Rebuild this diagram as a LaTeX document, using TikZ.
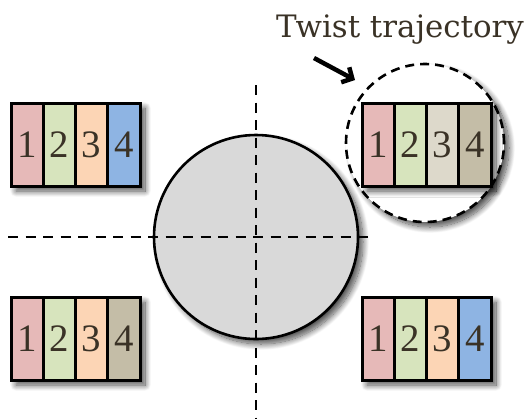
\documentclass[tikz,border=0pt]{standalone}
\usepackage{fontspec}
\setmainfont{Liberation Serif}
\newfontfamily\labelfont{DejaVu Serif}
\usetikzlibrary{arrows.meta,shadows.blur,fit}

\definecolor{inkbrown}{RGB}{58,50,38}
\definecolor{cpink}{RGB}{230,185,184}
\definecolor{cgreen}{RGB}{215,228,189}
\definecolor{corange}{RGB}{252,213,181}
\definecolor{cblue}{RGB}{142,180,227}
\definecolor{cbeige}{RGB}{221,217,203}
\definecolor{ctan}{RGB}{196,189,167}
\definecolor{cdisc}{RGB}{217,217,217}

\tikzset{
  cellbox/.style={draw=black, line width=2.6bp, minimum width=32.25bp,
    minimum height=83bp, inner sep=0pt, outer sep=0pt, anchor=north west,
    text=inkbrown, font=\fontsize{39}{39}\selectfont},
  softshadow/.style={blur shadow={shadow xshift=5bp, shadow yshift=-5bp,
      shadow blur radius=6bp, shadow blur steps=14, shadow opacity=70}},
  framebox/.style={draw=black, line width=3bp, fill=white, inner sep=0pt,
    softshadow},
  axisline/.style={line width=2.8bp, dash pattern=on 10bp off 7.5bp},
}

\begin{document}
\begin{tikzpicture}[x=1bp,y=-1bp]
\useasboundingbox (0,0) rectangle (532,418);

% central disc
\node[circle, draw=black, line width=2.6bp, fill=cdisc, minimum size=204bp,
  inner sep=0pt, softshadow] (disc) at (256,237) {};

% dashed axes through the disc
\coordinate (vtop) at (256,85);
\coordinate (vbot) at (256,418);
\coordinate (hleft) at (8,237);
\coordinate (hright) at (372,237);
\draw[axisline] (vtop) -- (vbot);
\draw[axisline] (hleft) -- (hright);

% trajectory circle
\node[circle, draw=black, line width=2.6bp, dash pattern=on 9bp off 6bp,
  fill=white, minimum size=158bp, inner sep=0pt, softshadow] (traj)
  at (425,143) {};

% four blocks of cells
\foreach \name/\x/\y/\ca/\cb/\cc/\cd in {
  tl/11/103/cpink/cgreen/corange/cblue,
  tr/362/103/cpink/cgreen/cbeige/ctan,
  bl/11/297/cpink/cgreen/corange/ctan,
  br/362/297/cpink/cgreen/corange/cblue}{
  \coordinate (\name-nw) at (\x,\y);
  \coordinate (\name-se) at (\x+129,\y+83);
  \node[framebox, fit=(\name-nw)(\name-se)] (\name) {};
  \node[cellbox, fill=\ca] (\name1) at (\name-nw) {1};
  \node[cellbox, fill=\cb] (\name2) at (\name1.north east) {2};
  \node[cellbox, fill=\cc] (\name3) at (\name2.north east) {3};
  \node[cellbox, fill=\cd] (\name4) at (\name3.north east) {4};
  \draw[line width=3bp] (\name1.north west) rectangle (\name4.south east);
}

% label and pointer
\node[text=inkbrown, font=\labelfont\fontsize{31}{31}\selectfont, anchor=base]
  (label) at (400,37) {Twist trajectory};
\coordinate (ptail) at (314,58);
\coordinate (ptip) at (355,80);
\draw[line width=4.5bp, -{Straight Barb[length=8bp,width=17bp,line width=4.5bp]}]
  (ptail) -- (ptip);
\end{tikzpicture}
\end{document}
